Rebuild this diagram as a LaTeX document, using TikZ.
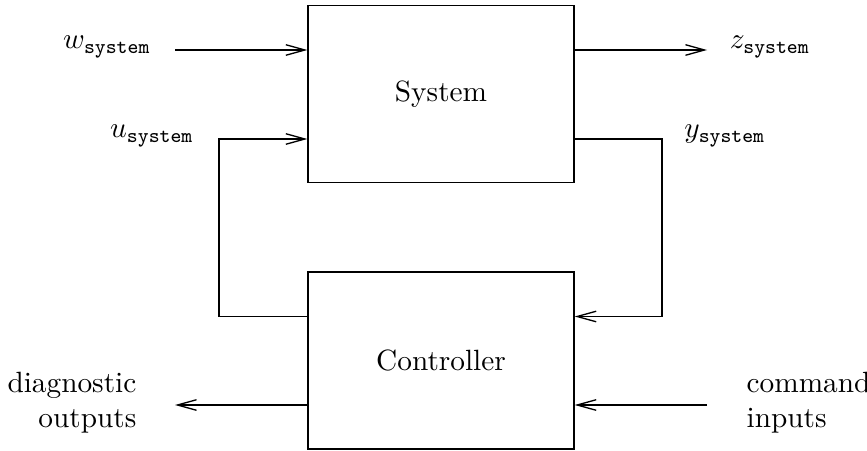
\documentclass[tikz,border=0pt]{standalone}
\usepackage{amsmath}
\usepackage{tikz}
\usetikzlibrary{arrows.meta,positioning}
\tikzstyle{arrow} = [-{Straight Barb[length=6.5pt,width=3.6pt]}]
\tikzstyle{block} = [rectangle, draw, minimum width=3.19cm, minimum height=2.12cm]
\tikzstyle{sig} = [inner sep=0pt]

\begin{document}
\begin{tikzpicture}[x=0.012cm, y=-0.012cm, line width=0.45pt]
\useasboundingbox (0,0) rectangle (867,450);
% Plant and controller
\node (system) [block] at (441,94) {System};
\node (ctrl) [block] at (441,360.5) {Controller};

% Exogenous input and regulated output
\coordinate (w_in) at (175,50);
\coordinate (z_out) at (707,50);
\node (w_lab) [sig] at (107,47) {$w_{\mathtt{system}}$};
\node (z_lab) [sig] at (770,47) {$z_{\mathtt{system}}$};
\draw[arrow] (w_in) -- (system.west |- w_in);
\draw[arrow] (system.east |- z_out) -- (z_out);

% Feedback loop
\coordinate (u_corner) at (219,139);
\coordinate (y_corner) at (662,139);
\node (u_lab) [sig] at (152,136) {$u_{\mathtt{system}}$};
\node (y_lab) [sig] at (725,136) {$y_{\mathtt{system}}$};
\draw[arrow] (ctrl.west |- 0,316.5) -| (u_corner) -- (system.west |- u_corner);
\draw[arrow] (system.east |- y_corner) -- (y_corner) |- (ctrl.east |- 0,316.5);

% Operator side
\coordinate (diag_out) at (175,405);
\coordinate (cmd_in) at (707,405);
\node (diag_lab) [sig, align=right, anchor=east] at (137,403) {diagnostic\\outputs};
\node (cmd_lab) [sig, align=left, anchor=west] at (746,403) {command\\inputs};
\draw[arrow] (ctrl.west |- diag_out) -- (diag_out);
\draw[arrow] (cmd_in) -- (ctrl.east |- cmd_in);
\end{tikzpicture}
\end{document}
